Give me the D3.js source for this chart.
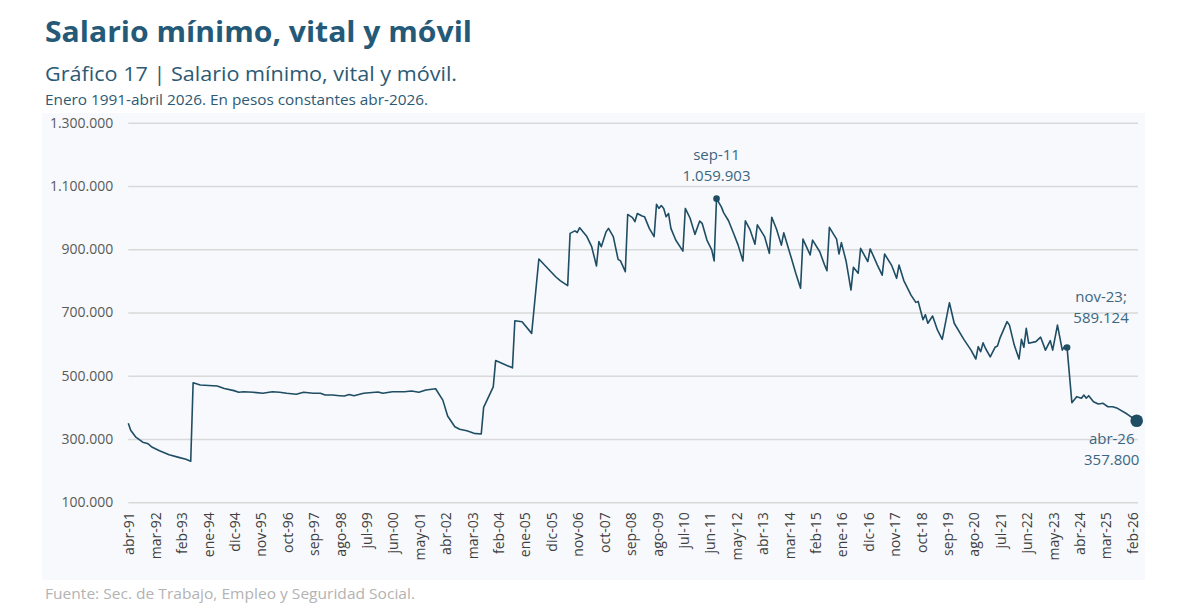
<!DOCTYPE html>
<html>
<head>
<meta charset="utf-8">
<script src="https://cdn.jsdelivr.net/npm/d3@7"></script>
<style>
  html, body { margin: 0; padding: 0; background: #ffffff; }
  svg { display: block; }
</style>
</head>
<body>
<svg id="chart" width="1185" height="613"></svg>
<script>
// ---------------- DATA ----------------
const dates = [
  "1991-04","1991-05","1991-07","1991-10","1991-12","1992-02","1992-05","1992-09","1993-01","1993-04",
  "1993-06","1993-07","1993-10","1994-05","1994-08","1994-12","1995-02","1995-04","1995-08","1995-12",
  "1996-04","1996-07","1996-10","1997-02","1997-05","1997-09","1997-12","1998-02","1998-05","1998-08",
  "1998-10","1998-12","1999-02","1999-06","1999-12","2000-02","2000-06","2000-11","2001-02","2001-05",
  "2001-08","2001-12","2002-03","2002-05","2002-08","2002-10","2003-01","2003-04","2003-07","2003-08",
  "2003-12","2004-01","2004-08","2004-09","2004-12","2005-04","2005-07","2006-02","2006-04","2006-07",
  "2006-08","2006-10","2006-11","2006-12","2007-03","2007-05","2007-07","2007-08","2007-09","2007-11",
  "2007-12","2008-02","2008-04","2008-05","2008-07","2008-08","2008-10","2008-11","2008-12","2009-02",
  "2009-03","2009-05","2009-07","2009-08","2009-09","2009-10","2009-11","2009-12","2010-01","2010-02",
  "2010-04","2010-07","2010-08","2010-10","2010-12","2011-02","2011-03","2011-05","2011-07","2011-08",
  "2011-09","2011-11","2011-12","2012-02","2012-04","2012-06","2012-08","2012-09","2012-11","2013-01",
  "2013-02","2013-05","2013-07","2013-08","2013-10","2013-12","2014-01","2014-04","2014-06","2014-08",
  "2014-09","2014-12","2015-01","2015-04","2015-06","2015-07","2015-08","2015-11","2015-12","2016-01",
  "2016-03","2016-05","2016-06","2016-08","2016-09","2016-12","2017-01","2017-04","2017-06","2017-07",
  "2017-10","2017-12","2018-01","2018-03","2018-06","2018-08","2018-09","2018-11","2018-12","2019-01",
  "2019-03","2019-05","2019-07","2019-10","2019-12","2020-04","2020-07","2020-09","2020-10","2020-11",
  "2020-12","2021-01","2021-03","2021-05","2021-06","2021-07","2021-10","2021-11","2022-01","2022-03",
  "2022-04","2022-05","2022-06","2022-07","2022-10","2022-12","2023-02","2023-04","2023-05","2023-07",
  "2023-09","2023-10","2023-11","2024-01","2024-03","2024-05","2024-06","2024-07","2024-08","2024-10",
  "2024-12","2025-02","2025-04","2025-06","2025-08","2025-12","2026-04"
];
const values = [
  350000,328000,307000,290000,286000,274000,263000,250000,242000,236000,
  230000,478000,471000,467500,460000,453000,448000,449600,447700,444600,
  449600,447700,444600,441400,447700,444600,444600,439000,439000,437000,
  436000,441000,437000,444600,448700,444600,449600,449600,451800,447700,
  455000,459000,423000,373000,339000,331000,326000,318000,316000,400000,
  465000,548000,525000,674000,671000,634000,869000,813000,800000,785000,
  950000,958000,953000,968000,940000,908000,847000,924000,908000,955000,
  966000,940000,868000,863000,829000,1010000,1000000,987000,1013000,1005000,
  1003000,966000,940000,1042000,1029000,1038000,1029000,1003000,1013000,966000,
  929000,894000,1029000,998000,947000,989000,982000,929000,898000,863000,
  1059903,1034000,1015000,990000,952000,913000,863000,990000,961000,916000,
  977000,940000,887000,1001000,963000,913000,952000,876000,824000,777000,
  932000,882000,929000,892000,850000,832000,969000,932000,885000,921000,
  861000,771000,843000,824000,903000,861000,901000,850000,818000,885000,
  848000,808000,850000,801000,755000,732000,735000,677000,693000,666000,
  689000,645000,615000,731000,666000,615000,581000,553000,592000,576000,
  604000,587000,560000,590000,594000,618000,671000,660000,597000,553000,
  615000,590000,650000,603000,608000,622000,581000,611000,581000,660000,
  581000,594000,589124,415000,434000,429000,439000,429000,437000,418000,
  411000,413000,402000,402000,397000,379000,357800
];
const tickLabels = [
  "abr-91","mar-92","feb-93","ene-94","dic-94","nov-95","oct-96","sep-97","ago-98","jul-99",
  "jun-00","may-01","abr-02","mar-03","feb-04","ene-05","dic-05","nov-06","oct-07","sep-08",
  "ago-09","jul-10","jun-11","may-12","abr-13","mar-14","feb-15","ene-16","dic-16","nov-17",
  "oct-18","sep-19","ago-20","jul-21","jun-22","may-23","abr-24","mar-25","feb-26"
];
const yTicks = [100000, 300000, 500000, 700000, 900000, 1100000, 1300000];
const highlights = [
  { date: "2011-09", lines: ["sep-11", "1.059.903"] },
  { date: "2023-11", lines: ["nov-23;", "589.124"] },
  { date: "2026-04", lines: ["abr-26", "357.800"] }
];
const titleText = "Salario mínimo, vital y móvil";
const subtitleText = "Gráfico 17 | Salario mínimo, vital y móvil.";
const noteText = "Enero 1991-abril 2026. En pesos constantes abr-2026.";
const sourceText = "Fuente: Sec. de Trabajo, Empleo y Seguridad Social.";

// ---------------- HELPERS ----------------
const monthAbbr = ["ene","feb","mar","abr","may","jun","jul","ago","sep","oct","nov","dic"];
const startDate = dates[0];
function monthIndex(ym) {
  const [yy, mm] = ym.split("-").map(Number);
  const [y0, m0] = startDate.split("-").map(Number);
  return (yy - y0) * 12 + (mm - m0);
}
function labelIndex(lbl) {
  const [ab, yy] = lbl.split("-");
  const yr = 1900 + (+yy < 50 ? 100 : 0) + (+yy);
  const mo = monthAbbr.indexOf(ab) + 1;
  return monthIndex(yr + "-" + String(mo).padStart(2, "0"));
}
const locale = d3.formatLocale({ decimal: ",", thousands: ".", grouping: [3], currency: ["$", ""] });
const fmt = locale.format(",d");

const data = dates.map((d, i) => ({ i: monthIndex(d), v: values[i] }));

// ---------------- LAYOUT ----------------
const FONT = "'Open Sans', 'Noto Sans', sans-serif";
const svg = d3.select("#chart");
const plotLeft = 128.3, plotRight = 1136.7, plotTop = 122.7, plotBottom = 502.3;

svg.append("rect").attr("x", 42).attr("y", 113).attr("width", 1103).attr("height", 467)
  .attr("fill", "#f7f9fc");

const x = d3.scaleLinear().domain([0, monthIndex(dates[dates.length - 1])]).range([plotLeft, plotRight]);
const y = d3.scaleLinear().domain([100000, 1300000]).range([plotBottom, plotTop]);

// titles
svg.append("text").attr("x", 45).attr("y", 42).text(titleText)
  .attr("font-family", FONT).attr("font-weight", 700).attr("font-size", 28)
  .attr("fill", "#245a78").attr("textLength", 427).attr("lengthAdjust", "spacingAndGlyphs");
svg.append("text").attr("x", 45).attr("y", 81).text(subtitleText)
  .attr("font-family", FONT).attr("font-size", 20)
  .attr("fill", "#2c5a74").attr("textLength", 412).attr("lengthAdjust", "spacingAndGlyphs");
svg.append("text").attr("x", 45).attr("y", 105).text(noteText)
  .attr("font-family", FONT).attr("font-size", 14)
  .attr("fill", "#2c5a74").attr("textLength", 383).attr("lengthAdjust", "spacingAndGlyphs");
svg.append("text").attr("x", 45).attr("y", 599).text(sourceText)
  .attr("font-family", FONT).attr("font-size", 14)
  .attr("fill", "#b3b3b3").attr("textLength", 370).attr("lengthAdjust", "spacingAndGlyphs");

// gridlines + y axis
const yAxis = d3.axisLeft(y).tickValues(yTicks).tickFormat(fmt).tickSize(-(plotRight + 1.3 - plotLeft)).tickPadding(15);
const gy = svg.append("g").attr("transform", `translate(${plotLeft},0)`).call(yAxis);
gy.select(".domain").remove();
gy.selectAll(".tick line").attr("stroke", "#d9d9d9").attr("stroke-width", 1.4);
gy.selectAll(".tick text").attr("font-family", FONT).attr("font-size", 14).attr("fill", "#595959");

// x axis (labels only)
const xAxis = d3.axisBottom(x).tickValues(tickLabels.map(labelIndex))
  .tickFormat((d, i) => tickLabels[i]).tickSize(0).tickPadding(0);
const gx = svg.append("g").attr("transform", `translate(0,${plotBottom})`).call(xAxis);
gx.select(".domain").remove();
gx.selectAll(".tick text")
  .attr("font-family", FONT).attr("font-size", 14).attr("fill", "#404040")
  .attr("text-anchor", "end").attr("dy", null).attr("y", 0).attr("x", 0)
  .attr("dominant-baseline", "central")
  .attr("transform", "translate(0,10) rotate(-90)");

// line
const line = d3.line().x(d => x(d.i)).y(d => y(d.v));
svg.append("path").datum(data).attr("d", line)
  .attr("fill", "none").attr("stroke", "#1f4d64").attr("stroke-width", 1.6)
  .attr("stroke-linejoin", "round");

// highlights
highlights.forEach((h, k) => {
  const idx = dates.indexOf(h.date);
  const px = x(monthIndex(h.date)), py = y(values[idx]);
  svg.append("circle").attr("cx", px).attr("cy", py).attr("r", k === 2 ? 6.3 : 3.3).attr("fill", "#1f4d64");
  let tx, ty;
  if (k === 0) { tx = px; ty = py - 39; }
  else if (k === 1) { tx = px + 34; ty = py - 46; }
  else { tx = px - 25; ty = py + 23; }
  h.lines.forEach((t, j) => {
    svg.append("text").attr("x", tx).attr("y", ty + j * 21).text(t)
      .attr("text-anchor", "middle").attr("font-family", FONT).attr("font-size", 15)
      .attr("fill", "#3b6680");
  });
});
</script>
</body>
</html>
